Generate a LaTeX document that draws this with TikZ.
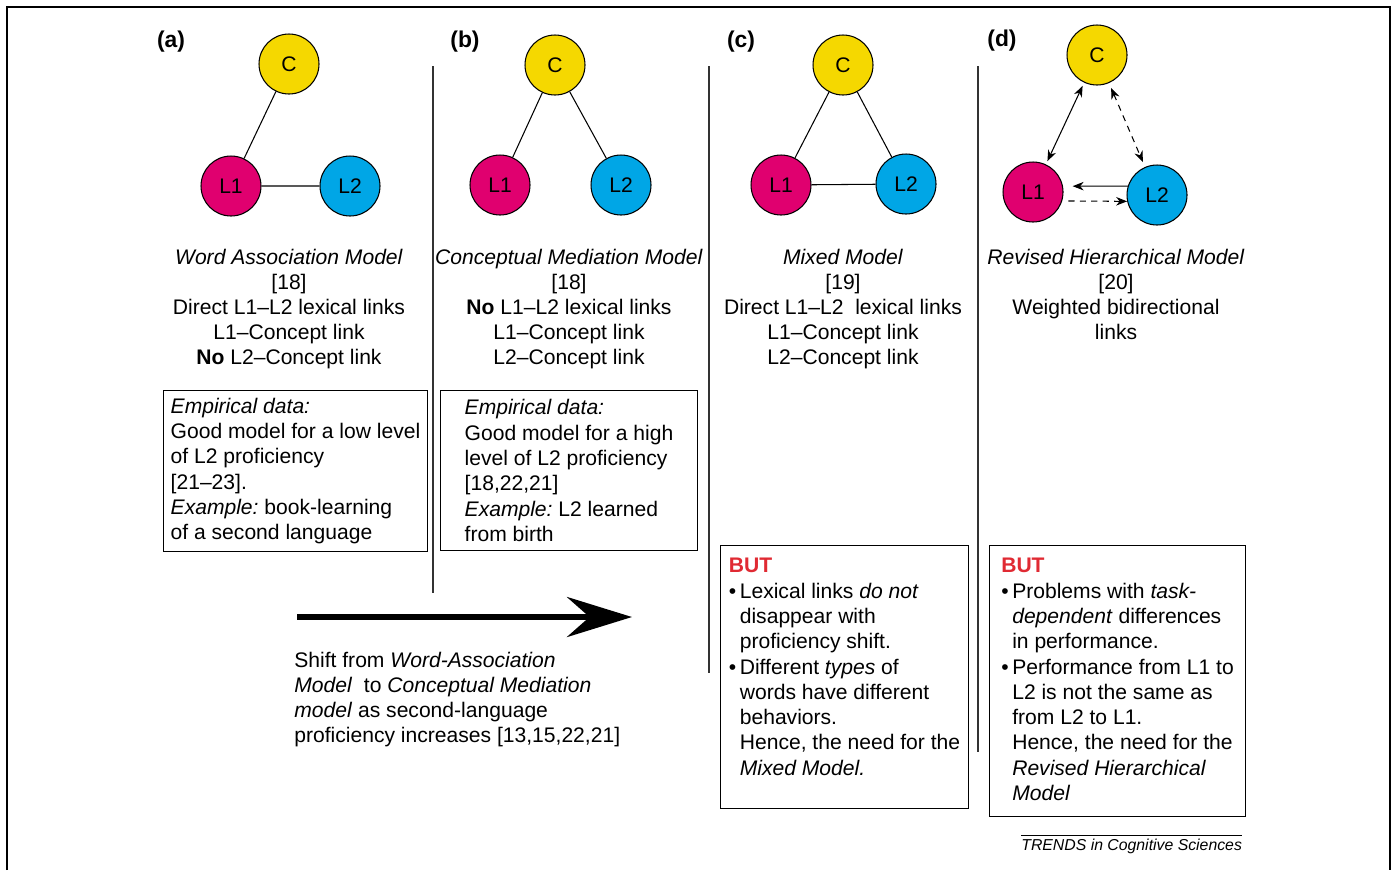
\documentclass[tikz,border=0pt]{standalone}
\usepackage{fontspec}
\setmainfont{Liberation Sans}
\usetikzlibrary{arrows.meta}
\definecolor{concept}{HTML}{F5D800}
\definecolor{firstlang}{HTML}{E0006F}
\definecolor{secondlang}{HTML}{00A6E6}
\definecolor{alert}{HTML}{E02A33}
\frenchspacing

\newcommand{\butpoint}[1]{\makebox[#1][l]{\textbullet}}
\newcommand{\butgap}[1]{\hspace*{#1}}

\begin{document}
\begin{tikzpicture}[x=0.02cm, y=-0.02cm,
    font=\fontsize{12pt}{14.2pt}\selectfont,
    >={Stealth[length=0.22cm, width=0.17cm, inset=0.07cm]},
    lang/.style={circle, draw, line width=0.6pt, minimum size=1.2cm, inner sep=0pt},
    link/.style={line width=0.6pt},
    dashlink/.style={link, dash pattern=on 3.5pt off 3pt},
    tag/.style={font=\fontsize{13pt}{15pt}\selectfont\bfseries, inner sep=0pt},
    caption/.style={align=center, anchor=north, inner sep=0pt},
    infobox/.style={draw, line width=0.6pt, anchor=north west, align=left, inner xsep=0.1cm,
      font=\fontsize{12pt}{14.4pt}\selectfont},
    divider/.style={line width=0.8pt, draw=black!80}]
  \useasboundingbox (0,0) rectangle (1395,870);
  \draw[line width=0.6pt] (7,870) -- (7,7) -- (1390,7) -- (1390,870);

  % (a) word association
  \node[tag] (taga) at (171,42) {(a)};
  \node[lang, fill=concept] (ca) at (289,64) {C};
  \node[lang, fill=firstlang] (la1) at (231,186) {L1};
  \node[lang, fill=secondlang] (la2) at (350,186) {L2};
  \draw[link] (ca) -- (la1) (la1) -- (la2);

  % (b) conceptual mediation
  \node[tag] (tagb) at (465,42) {(b)};
  \node[lang, fill=concept] (cb) at (555,65) {C};
  \node[lang, fill=firstlang] (lb1) at (500,185) {L1};
  \node[lang, fill=secondlang] (lb2) at (621,185) {L2};
  \draw[link] (cb) -- (lb1) (cb) -- (lb2);

  % (c) mixed
  \node[tag] (tagc) at (741,42) {(c)};
  \node[lang, fill=concept] (cc) at (843,65) {C};
  \node[lang, fill=firstlang] (lc1) at (781,185) {L1};
  \node[lang, fill=secondlang] (lc2) at (906,184) {L2};
  \draw[link] (cc) -- (lc1) (cc) -- (lc2) (lc1) -- (lc2);

  % (d) revised hierarchical
  \node[tag] (tagd) at (1002,41) {(d)};
  \node[lang, fill=concept] (cd) at (1097,55) {C};
  \node[lang, fill=firstlang] (ld1) at (1033,192) {L1};
  \node[lang, fill=secondlang] (ld2) at (1157,195) {L2};
  \draw[link, <->, shorten <=2pt, shorten >=2pt] (cd) -- (ld1);
  \draw[dashlink, <->, shorten <=3pt, shorten >=3pt] (cd) -- (ld2);
  \draw[link, ->, shorten >=5.5pt] (ld2.163) -- (ld1.11);
  \draw[dashlink, ->, shorten <=3.5pt] (ld1.-17) -- (ld2.192);

  \draw[divider] (433,66) -- (433,593);
  \draw[divider] (709,66) -- (709,673);
  \draw[divider] (978,66) -- (978,752);

  \node[caption] (capa) at (289,249) {\textit{Word Association Model}\\{[18]}\\
    Direct L1--L2 lexical links\\ L1--Concept link\\ \textbf{No} L2--Concept link};
  \node[caption] (capb) at (569,249) {\textit{Conceptual Mediation Model}\\{[18]}\\
    \textbf{No} L1--L2 lexical links\\ L1--Concept link\\ L2--Concept link};
  \node[caption] (capc) at (843,249) {\textit{Mixed Model}\\{[19]}\\
    Direct L1--L2\ \ lexical links\\ L1--Concept link\\ L2--Concept link};
  \node[caption] (capd) at (1116,249) {\textit{Revised Hierarchical Model}\\{[20]}\\
    Weighted bidirectional\\ links};

  \node[infobox, inner ysep=0.15cm, minimum width=5.28cm, text depth=0.09cm] (dataa) at (163,390)
    {\textit{Empirical data:}\\ Good model for a low level\\ of L2 proficiency\\ {[21--23]}.\\
     \textit{Example:} book-learning\\ of a second language};
  \node[infobox, inner ysep=0.18cm, minimum width=5.14cm, text depth=0cm] (datab) at (440,390)
    {\textit{Empirical data:}\\ Good model for a high\\ level of L2 proficiency\\ {[18,22,21]}\\
     \textit{Example:} L2 learned\\ from birth};

  \node[infobox, inner xsep=0.08cm, inner ysep=0.256cm, minimum width=4.96cm, text depth=0.4cm] (butc) at (720,545)
    {\textcolor{alert}{\textbf{BUT}}\\
     \butpoint{0.22cm}Lexical links \textit{do not}\\ \butgap{0.22cm}disappear with\\
     \butgap{0.22cm}proficiency shift.\\
     \butpoint{0.22cm}Different \textit{types} of\\ \butgap{0.22cm}words have different\\
     \butgap{0.22cm}behaviors.\\ \butgap{0.22cm}Hence, the need for the\\
     \butgap{0.22cm}\textit{Mixed Model.}};
  \node[infobox, inner ysep=0.256cm, minimum width=5.12cm, text depth=0.07cm] (butd) at (989,545)
    {\textcolor{alert}{\textbf{BUT}}\\
     \butpoint{0.22cm}Problems with \textit{task-}\\ \butgap{0.22cm}\textit{dependent} differences\\
     \butgap{0.22cm}in performance.\\
     \butpoint{0.22cm}Performance from L1 to\\ \butgap{0.22cm}L2 is not the same as\\
     \butgap{0.22cm}from L2 to L1.\\ \butgap{0.22cm}Hence, the need for the\\
     \butgap{0.22cm}\textit{Revised Hierarchical}\\ \butgap{0.22cm}\textit{Model}};

  % shift arrow
  \coordinate (shiftfrom) at (297,617);
  \coordinate (shiftto) at (632,617);
  \draw[line width=3.8pt, -{Stealth[length=1.3cm, width=0.8cm, inset=0.45cm]}] (shiftfrom) -- (shiftto);
  \node[anchor=north west, align=left, inner sep=0pt] (shifttext) at (294,652)
    {Shift from \textit{Word-Association}\\ \textit{Model}\ \ to \textit{Conceptual Mediation}\\
     \textit{model} as second-language\\ proficiency increases [13,15,22,21]};

  \node[anchor=north west, inner sep=0pt, font=\fontsize{9pt}{11pt}\selectfont\itshape] (trends) at (1021,839)
    {TRENDS in Cognitive Sciences};
  \draw[line width=0.5pt] ([yshift=0.08cm]trends.north west) -- ([yshift=0.08cm]trends.north east);
\end{tikzpicture}
\end{document}
